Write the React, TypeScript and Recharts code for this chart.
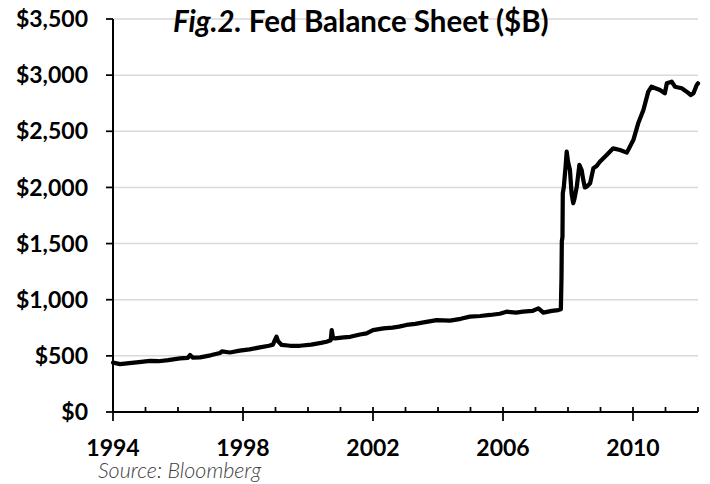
import React from "react";
import { LineChart, Line, XAxis, YAxis, CartesianGrid } from "recharts";

// positions on the date axis (decimal years)
const years = [
  1994.0, 1994.22, 1994.5, 1994.8, 1995.14, 1995.4, 1995.7, 1996.06, 1996.3,
  1996.37, 1996.45, 1996.68, 1997.0, 1997.29, 1997.35, 1997.6, 1997.9, 1998.2,
  1998.52, 1998.8, 1998.92, 1998.98, 1999.03, 1999.08, 1999.19, 1999.45,
  1999.75, 2000.1, 2000.4, 2000.57, 2000.7, 2000.73, 2000.77, 2000.83, 2001.1,
  2001.3, 2001.6, 2001.8, 2002.0, 2002.32, 2002.6, 2002.8, 2003.03, 2003.3,
  2003.6, 2003.96, 2004.37, 2004.7, 2004.98, 2005.3, 2005.6, 2005.9, 2006.11,
  2006.4, 2006.62, 2006.9, 2007.09, 2007.24, 2007.5, 2007.7, 2007.78, 2007.8,
  2007.81, 2007.83, 2007.84, 2007.87, 2007.93, 2007.96, 2008.0, 2008.06,
  2008.11, 2008.16, 2008.2, 2008.27, 2008.35, 2008.42, 2008.47, 2008.52,
  2008.58, 2008.68, 2008.78, 2008.88, 2008.98, 2009.19, 2009.39, 2009.6,
  2009.81, 2010.01, 2010.16, 2010.32, 2010.47, 2010.57, 2010.83, 2010.98,
  2011.04, 2011.19, 2011.29, 2011.5, 2011.65, 2011.78, 2011.86, 2011.96,
  2012.0,
];

// Fed balance sheet, $B
const balance = [
  440, 427, 435, 445, 455, 452, 462, 478, 482, 508, 485, 487, 505, 525, 540,
  530, 546, 558, 576, 590, 600, 640, 671, 630, 597, 590, 590, 600, 615, 626,
  640, 730, 660, 656, 665, 670, 690, 700, 730, 745, 752, 760, 775, 785, 800,
  819, 813, 830, 849, 855, 864, 875, 893, 885, 893, 900, 923, 885, 900, 908,
  915, 1200, 1520, 1560, 1950, 2000, 2200, 2318, 2230, 2155, 1947, 1859, 1900,
  2007, 2200, 2155, 2066, 2000, 2007, 2037, 2170, 2190, 2229, 2289, 2348, 2333,
  2310, 2422, 2571, 2690, 2853, 2897, 2868, 2838, 2927, 2942, 2897, 2883, 2853,
  2823, 2838, 2912, 2927,
];

const yTicks = [0, 500, 1000, 1500, 2000, 2500, 3000, 3500];
const xTicks = [
  1994, 1995, 1996, 1997, 1998, 1999, 2000, 2001, 2002, 2003, 2004, 2005, 2006,
  2007, 2008, 2009, 2010, 2011, 2012,
];
const labeledYears = [1994, 1998, 2002, 2006, 2010];

const data = years.map((year, i) => ({ year, balance: balance[i] }));

const font = "Lato, 'Open Sans', sans-serif";

const YearTick = (props: any) => {
  const { x, y, payload } = props;
  const major = labeledYears.includes(payload.value);
  return (
    <g>
      <line
        x1={x}
        x2={x}
        y1={y - 5}
        y2={major ? y + 9 : y}
        stroke="#000"
        strokeWidth={1.75}
      />
      {major && (
        <text
          x={x}
          y={y + 44}
          textAnchor="middle"
          fontFamily={font}
          fontWeight={700}
          fontSize={23}
          fill="#000">
          {payload.value}
        </text>
      )}
    </g>
  );
};

const App = () => {
  return (
    <div
      style={{
        position: "absolute",
        left: 0,
        top: 0,
        width: 710,
        height: 484,
        background: "#fff",
      }}>
      <LineChart
        width={710}
        height={484}
        data={data}
        margin={{ top: 19, right: 12, bottom: 0, left: 0 }}>
        <CartesianGrid
          vertical={false}
          stroke="#d9d9d9"
          strokeWidth={1.5}
        />
        <XAxis
          dataKey="year"
          type="number"
          domain={[1994, 2012]}
          ticks={xTicks}
          interval={0}
          height={72}
          tickSize={0}
          tickMargin={0}
          tickLine={false}
          axisLine={{ stroke: "#000", strokeWidth: 2 }}
          tick={<YearTick />}
        />
        <YAxis
          type="number"
          domain={[0, 3500]}
          ticks={yTicks}
          width={113}
          tickSize={7}
          tickMargin={18}
          axisLine={{ stroke: "#000", strokeWidth: 2 }}
          tickLine={{ stroke: "#000", strokeWidth: 1.75 }}
          tickFormatter={(v: number) => "$" + v.toLocaleString("en-US")}
          tick={{
            fill: "#000",
            fontFamily: font,
            fontWeight: 700,
            fontSize: 23,
          }}
        />
        <Line
          dataKey="balance"
          type="linear"
          stroke="#000"
          strokeWidth={4.25}
          strokeLinejoin="round"
          strokeLinecap="round"
          dot={false}
          isAnimationActive={false}
        />
      </LineChart>
      <svg
        width={710}
        height={484}
        style={{ position: "absolute", left: 0, top: 0, pointerEvents: "none" }}>
        <text x={173} y={32} fontFamily={font} fontWeight={700} fontSize={29.5} fill="#000">
          <tspan fontStyle="italic">Fig.2.</tspan>
          <tspan> Fed Balance Sheet ($B)</tspan>
        </text>
        <text
          x={98}
          y={478}
          fontFamily={font}
          fontStyle="italic"
          fontWeight={300}
          fontSize={21.5}
          fill="#404040">
          Source: Bloomberg
        </text>
      </svg>
    </div>
  );
};

export default App;
